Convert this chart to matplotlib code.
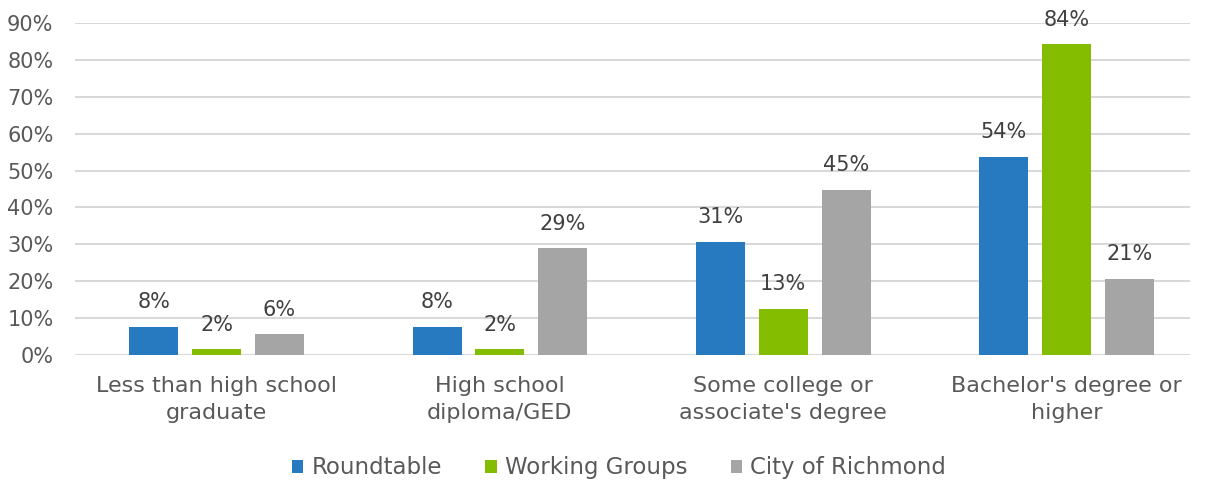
import numpy as np
import matplotlib.pyplot as plt

categories = ["Less than high school\ngraduate", "High school\ndiploma/GED",
              "Some college or\nassociate's degree", "Bachelor's degree or\nhigher"]
roundtable = [7.6, 7.6, 30.7, 53.8]
working_groups = [1.5, 1.5, 12.6, 84.2]
city = [5.6, 28.9, 44.7, 20.6]
series_names = ["Roundtable", "Working Groups", "City of Richmond"]
colors = ["#2779c0", "#84bc00", "#a5a5a5"]

plt.rcParams['font.family'] = ['DejaVu Sans']

fig = plt.figure(figsize=(12.05, 4.82), dpi=100)
ax = fig.add_axes([75 / 1205, 127 / 482, 1115 / 1205, 332 / 482])

x = np.arange(len(categories))
width = 0.173
step = 0.222
for i, (vals, name, col) in enumerate(zip([roundtable, working_groups, city], series_names, colors)):
    pos = x + (i - 1) * step
    ax.bar(pos, vals, width, color=col, label=name, zorder=3)
    for px, v in zip(pos, vals):
        ax.text(px, v + 4.0, "%.0f%%" % v, ha='center', va='bottom',
                fontsize=15, color='#404040')

ax.set_xlim(-0.5, 3.436)
ax.set_ylim(0, 90)
ax.set_yticks(np.arange(0, 91, 10))
ax.set_yticklabels(["%d%%" % t for t in range(0, 91, 10)])
ax.set_xticks(x)
ax.set_xticklabels(categories, linespacing=1.45)
ax.tick_params(axis='y', length=0, labelsize=15, labelcolor='#595959', pad=15.5)
ax.tick_params(axis='x', length=0, labelsize=16, labelcolor='#595959', pad=15)
ax.grid(axis='y', color='#d9d9d9', linewidth=1.5, zorder=0)
for s in ax.spines.values():
    s.set_visible(False)

ax.legend(loc='center', bbox_to_anchor=(0.488, -0.34), ncol=3, frameon=False,
          fontsize=16.5, handlelength=0.5, handleheight=0.5, handletextpad=0.35,
          columnspacing=1.9, labelcolor='#595959')

fig.savefig("out.png", dpi=100)
